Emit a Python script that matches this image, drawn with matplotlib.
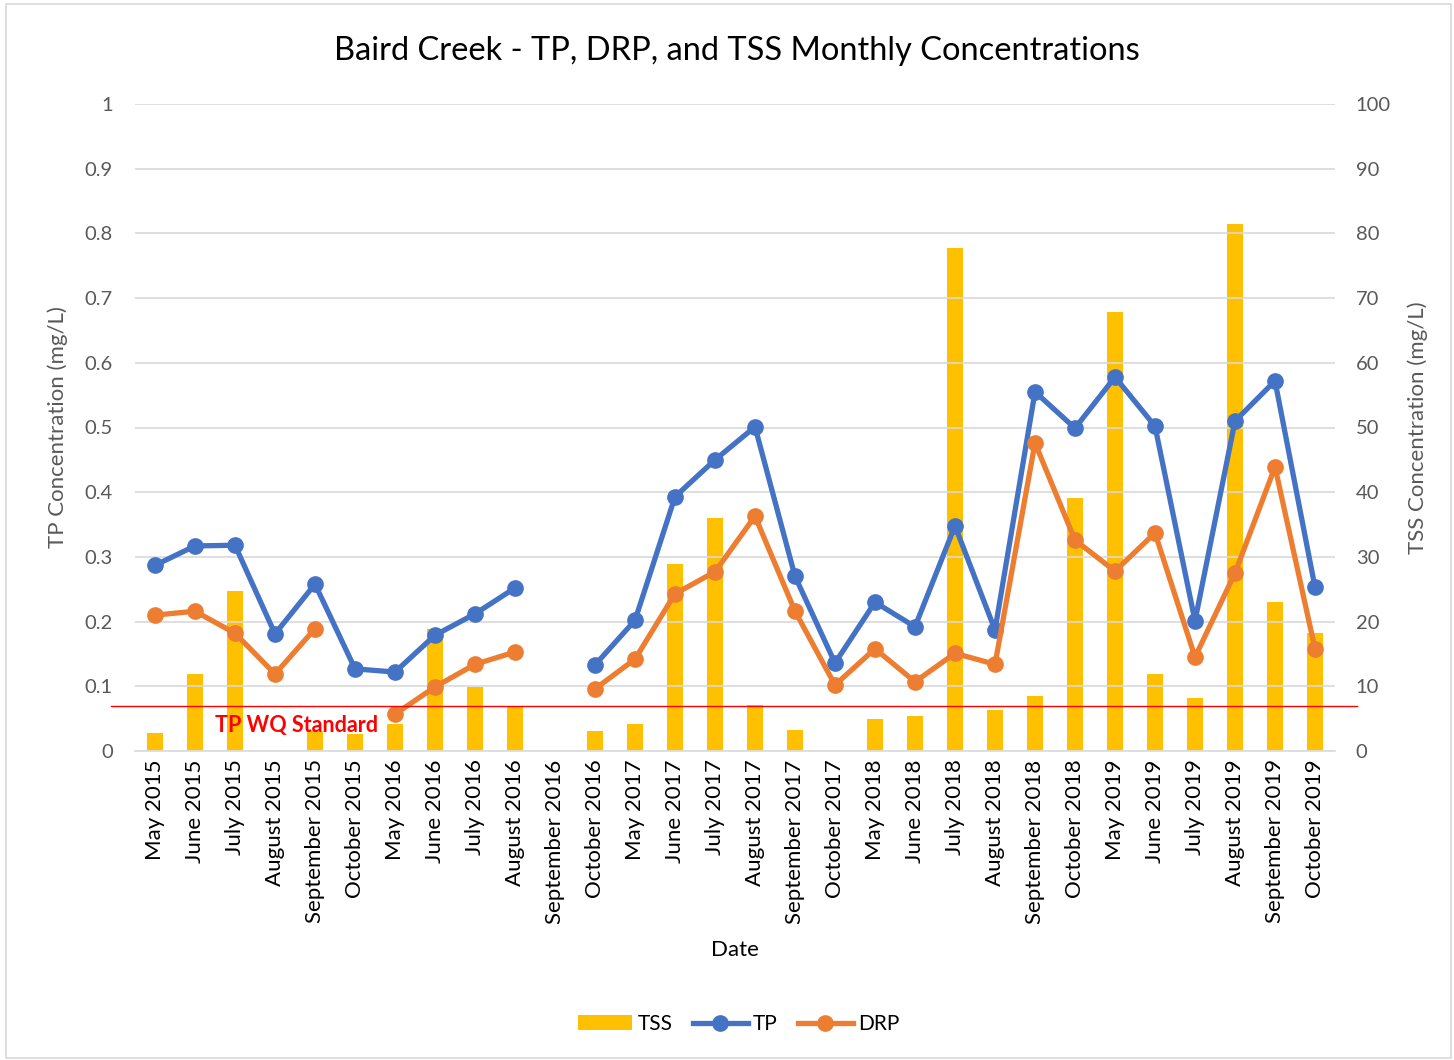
import numpy as np
import matplotlib.pyplot as plt
from matplotlib.patches import Rectangle

plt.rcParams['font.family'] = ['Lato', 'DejaVu Sans']

dates = ['May 2015', 'June 2015', 'July 2015', 'August 2015', 'September 2015', 'October 2015',
         'May 2016', 'June 2016', 'July 2016', 'August 2016', 'September 2016', 'October 2016',
         'May 2017', 'June 2017', 'July 2017', 'August 2017', 'September 2017', 'October 2017',
         'May 2018', 'June 2018', 'July 2018', 'August 2018', 'September 2018', 'October 2018',
         'May 2019', 'June 2019', 'July 2019', 'August 2019', 'September 2019', 'October 2019']

nan = np.nan
tp = [0.287, 0.317, 0.318, 0.181, 0.258, 0.127,
      0.122, 0.179, 0.212, 0.252, nan, 0.133,
      0.202, 0.393, 0.450, 0.501, 0.270, 0.136,
      0.230, 0.192, 0.348, 0.187, 0.555, 0.499,
      0.578, 0.502, 0.201, 0.510, 0.572, 0.253]
drp = [0.210, 0.216, 0.182, 0.119, 0.189, nan,
       0.057, 0.099, 0.134, 0.153, nan, 0.096,
       0.142, 0.243, 0.277, 0.363, 0.216, 0.102,
       0.158, 0.107, 0.151, 0.134, 0.476, 0.326,
       0.278, 0.337, 0.145, 0.275, 0.439, 0.158]
tss = [2.8, 11.9, 24.7, 0, 3.1, 2.6,
       4.2, 18.9, 9.9, 6.8, 0, 3.1,
       4.2, 28.9, 36.0, 7.1, 3.2, 0,
       4.9, 5.4, 77.7, 6.3, 8.5, 39.1,
       67.9, 11.9, 8.2, 81.5, 23.0, 18.2]
tp_standard = 0.07

blue = '#4472C4'
orange = '#ED7D31'
gold = '#FFC000'
grey = '#595959'

fig = plt.figure(figsize=(14.54, 10.6), dpi=100)
fig.patches.append(Rectangle((0.004, 0.002), 0.994, 0.994, transform=fig.transFigure,
                             fill=False, edgecolor='#d9d9d9', lw=1.2))

ax = fig.add_axes([135/1454, 1 - 751/1060, 1200/1454, 647/1060])
ax2 = ax.twinx()
x = np.arange(len(dates))

# bars on the secondary axis, drawn behind the lines
ax2.bar(x, tss, width=0.4, color=gold, zorder=1, label='TSS')
ax2.set_ylim(0, 100)
ax2.set_yticks(np.arange(0, 101, 10))

ax.set_zorder(ax2.get_zorder() + 1)
ax.patch.set_visible(False)
ax.plot(x, tp, color=blue, lw=3.8, marker='o', ms=11, label='TP', zorder=3)
ax.plot(x, drp, color=orange, lw=3.8, marker='o', ms=11, label='DRP', zorder=3)
ax.axhline(tp_standard, xmin=-0.02, xmax=1.018, color='red', lw=1, clip_on=False, zorder=4)
ax.text(1.5, 0.04, 'TP WQ Standard', color='red', fontsize=15.5, fontweight='bold',
        ha='left', va='center', zorder=5)

ax.set_xlim(-0.5, len(dates) - 0.5)
ax.set_ylim(0, 1)
ax.set_yticks(np.arange(0, 1.01, 0.1))
ax.set_yticklabels(['0'] + ['%.1f' % v for v in np.arange(0.1, 0.95, 0.1)] + ['1'])
ax.set_xticks(x)
ax.set_xticklabels(dates, rotation=90, fontsize=16, color='black')
ax.grid(axis='y', color='#d9d9d9', lw=1.2)
ax2.grid(False)

for a in (ax, ax2):
    for s in a.spines.values():
        s.set_visible(False)
    a.tick_params(axis='y', length=0, labelsize=14.5, labelcolor=grey)
ax.tick_params(axis='y', pad=16)
ax2.tick_params(axis='y', pad=15)
ax.tick_params(axis='x', length=0, pad=6)
ax.spines['bottom'].set_visible(True)
ax.spines['bottom'].set_color('#d9d9d9')
ax.spines['bottom'].set_linewidth(1.2)

ax.set_ylabel('TP Concentration (mg/L)', fontsize=16, color=grey, labelpad=12)
ax2.set_ylabel('TSS Concentration (mg/L)', fontsize=16, color=grey, labelpad=12)
ax.set_xlabel('Date', fontsize=16, color='black', labelpad=12)

fig.text(0.507, 0.952, 'Baird Creek - TP, DRP, and TSS Monthly Concentrations',
         ha='center', va='center', fontsize=23.5)

h1, l1 = ax2.get_legend_handles_labels()
h2, l2 = ax.get_legend_handles_labels()
fig.legend(h1 + h2, l1 + l2, loc='center', bbox_to_anchor=(0.508, 0.034), ncol=3,
           frameon=False, fontsize=15, handlelength=2.6, columnspacing=1.0, handletextpad=0.25)

fig.savefig('out.png', dpi=100)
